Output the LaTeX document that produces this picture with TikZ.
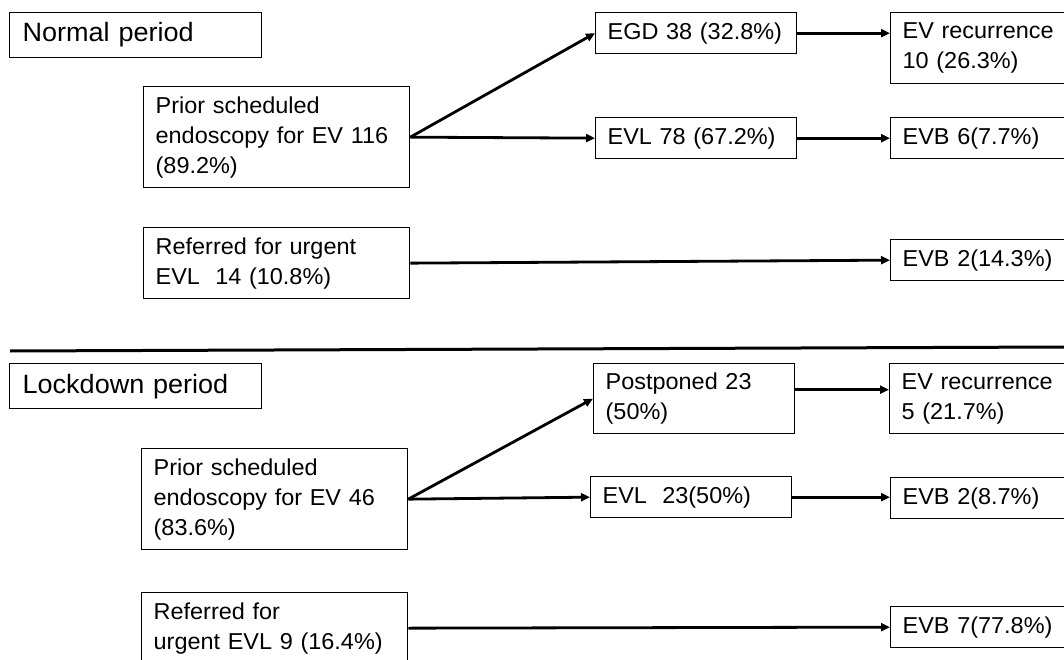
\documentclass[tikz,border=0pt]{standalone}
\usepackage{fontspec}
\setmainfont{Liberation Sans}[FakeStretch=1.02]
\usetikzlibrary{arrows.meta, positioning}

\begin{document}
\begin{tikzpicture}[x=1pt, y=-1pt,
    box/.style={draw, line width=1.3pt, anchor=north west, align=left,
                inner xsep=12pt, inner ysep=0pt, font=\fontsize{23}{30}\selectfont},
    periodbox/.style={box, text width=226pt, minimum height=45pt, inner xsep=13pt,
                font=\fontsize{26.5}{30}\selectfont},
    leftbox/.style={box, text width=242pt},
    midbox/.style={box, text width=177pt},
    endbox/.style={box, text width=176pt},
    arr/.style={line width=2.8pt, -{Triangle[length=9pt, width=8pt]}}
]
            \useasboundingbox (0,0) rectangle (1064,660);
            \clip (0,0) rectangle (1064,660);

            \node[periodbox] (normal) at (9, 12) {Normal period};
            \node[leftbox, minimum height=101pt] (nprior) at (143, 86) {Prior scheduled\\endoscopy for EV 116\\(89.2\%)};
            \node[midbox, minimum height=41pt] (negd) at (595, 12) {EGD 38 (32.8\%)};
            \node[midbox, minimum height=41pt] (nevl) at (595, 117) {EVL 78 (67.2\%)};
            \node[endbox, minimum height=71pt] (nrec) at (890, 12) {EV recurrence\\10 (26.3\%)};
            \node[endbox, minimum height=41pt] (nevb) at (890, 117) {EVB 6(7.7\%)};
            \node[leftbox, minimum height=71pt] (nurg) at (143, 227) {Referred for urgent\\EVL\ \ 14 (10.8\%)};
            \node[endbox, minimum height=41pt] (nurgevb) at (890, 239) {EVB 2(14.3\%)};

            \draw[arr] (nprior.east) -- (negd.west);
            \draw[arr] (nprior.east) -- (nevl.west);
            \draw[arr] (negd.east) -- (negd.east -| nrec.west);
            \draw[arr] (nevl.east) -- (nevb.west);
            \draw[arr] (nurg.east) -- (nurgevb.west);

            \draw[line width=3pt] (10, 351) -- (1064, 347);

            \node[periodbox] (lock) at (9, 363) {Lockdown period};
            \node[leftbox, minimum height=101pt] (lprior) at (141, 448) {Prior scheduled\\endoscopy for EV 46\\(83.6\%)};
            \node[midbox, minimum height=70pt] (lpost) at (593, 363) {Postponed 23\\(50\%)};
            \node[midbox, minimum height=41pt] (levl) at (590, 476) {EVL\ \ 23(50\%)};
            \node[endbox, minimum height=70pt] (lrec) at (889, 363) {EV recurrence\\5 (21.7\%)};
            \node[endbox, minimum height=41pt] (levb) at (890, 477) {EVB 2(8.7\%)};
            \node[leftbox, minimum height=71pt] (lurg) at (141, 592) {Referred for\\urgent EVL 9 (16.4\%)};
            \node[endbox, minimum height=41pt] (lurgevb) at (890, 606) {EVB 7(77.8\%)};

            \draw[arr] (lprior.east) -- (lpost.west);
            \draw[arr] (lprior.east) -- (levl.west);
            \draw[arr] ([yshift=9pt]lpost.east) -- ([yshift=9pt]lpost.east -| lrec.west);
            \draw[arr] (levl.east) -- (levl.east -| levb.west);
            \draw[arr] (lurg.east) -- (lurgevb.west);
\end{tikzpicture}
\end{document}
